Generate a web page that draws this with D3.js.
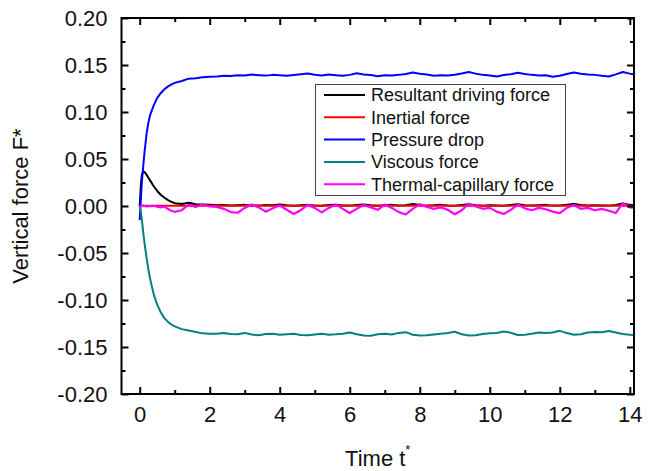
<!DOCTYPE html>
<html>
<head>
<meta charset="utf-8">
<script src="https://cdn.jsdelivr.net/npm/d3@7"></script>
<style>
  html, body { margin: 0; padding: 0; background: #fff; }
  svg { display: block; font-family: Arial, "Liberation Sans", sans-serif; }
</style>
</head>
<body>
<svg id="chart" width="649" height="471"></svg>
<script>
// ---------------- DATA ----------------
const times = [0, 0.03, 0.06, 0.1, 0.14, 0.2, 0.25, 0.3, 0.4, 0.5, 0.6, 0.7, 0.8, 0.9,
  1.0, 1.2, 1.4, 1.6, 1.8, 2.0, 2.2, 2.4, 2.6, 2.8, 3.0, 3.2, 3.4, 3.6, 3.8, 4.0,
  4.2, 4.4, 4.6, 4.8, 5.0, 5.2, 5.4, 5.6, 5.8, 6.0, 6.2, 6.4, 6.6, 6.8, 7.0,
  7.2, 7.4, 7.6, 7.8, 8.0, 8.2, 8.4, 8.6, 8.8, 9.0, 9.2, 9.4, 9.6, 9.8, 10.0,
  10.2, 10.4, 10.6, 10.8, 11.0, 11.2, 11.4, 11.6, 11.8, 12.0, 12.2, 12.4, 12.6, 12.8, 13.0,
  13.2, 13.4, 13.6, 13.8, 14.0, 14.2];

const resultantDriving = [0.000, 0.020, 0.033, 0.037, 0.036, 0.033, 0.030, 0.027, 0.021, 0.016, 0.012, 0.009, 0.0065, 0.0045,
  0.0030, 0.0022, 0.0035, 0.0018, 0.0015, 0.0012, 0.0008, 0.0010, 0.0005, 0.0009, 0.0012, 0.0006, 0.0004, 0.0010, 0.0007, 0.0016,
  0.0008, 0.0003, 0.0009, 0.0012, 0.0006, 0.0002, 0.0010, 0.0014, 0.0006, 0.0004, 0.0011, 0.0016, 0.0008, 0.0003, 0.0009,
  0.0012, 0.0005, 0.0008, 0.0022, 0.0010, 0.0004, 0.0007, 0.0012, 0.0005, 0.0003, 0.0010, 0.0018, 0.0009, 0.0004, 0.0008,
  0.0006, 0.0003, 0.0011, 0.0020, 0.0009, 0.0005, 0.0008, 0.0012, 0.0004, 0.0006, 0.0013, 0.0021, 0.0010, 0.0005, 0.0008,
  0.0006, 0.0004, 0.0010, 0.0028, 0.0012, 0.0008];

const inertial = [0.0000, 0.0004, 0.0005, 0.0004, 0.0003, 0.0003, 0.0003, 0.0003, 0.0003, 0.0003, 0.0003, 0.0003, 0.0003, 0.0003,
  0.0003, 0.0003, 0.0003, 0.0003, 0.0003, 0.0003, 0.0003, 0.0003, 0.0003, 0.0003, 0.0003, 0.0003, 0.0003, 0.0003, 0.0003, 0.0003,
  0.0003, 0.0003, 0.0003, 0.0003, 0.0003, 0.0003, 0.0003, 0.0003, 0.0003, 0.0003, 0.0003, 0.0003, 0.0003, 0.0003, 0.0003,
  0.0003, 0.0003, 0.0003, 0.0003, 0.0003, 0.0003, 0.0003, 0.0003, 0.0003, 0.0003, 0.0003, 0.0003, 0.0003, 0.0003, 0.0003,
  0.0003, 0.0003, 0.0003, 0.0003, 0.0003, 0.0003, 0.0003, 0.0003, 0.0003, 0.0003, 0.0003, 0.0003, 0.0003, 0.0003, 0.0003,
  0.0003, 0.0003, 0.0003, 0.0003, 0.0003, 0.0003];

const pressureDrop = [-0.015, 0.005, 0.025, 0.042, 0.058, 0.078, 0.089, 0.097, 0.107, 0.115, 0.120, 0.124, 0.127, 0.129,
  0.1310, 0.1330, 0.1355, 0.1360, 0.1370, 0.1375, 0.1378, 0.1385, 0.1383, 0.1392, 0.1388, 0.1398, 0.1392, 0.1387, 0.1395, 0.1390,
  0.1385, 0.1393, 0.1402, 0.1410, 0.1396, 0.1389, 0.1398, 0.1391, 0.1385, 0.1395, 0.1412, 0.1400, 0.1393, 0.1380, 0.1392,
  0.1388, 0.1395, 0.1405, 0.1420, 0.1408, 0.1398, 0.1385, 0.1392, 0.1388, 0.1397, 0.1410, 0.1425, 0.1408, 0.1395, 0.1388,
  0.1378, 0.1393, 0.1402, 0.1418, 0.1405, 0.1395, 0.1388, 0.1392, 0.1375, 0.1385, 0.1405, 0.1420, 0.1408, 0.1400, 0.1395,
  0.1385, 0.1378, 0.1400, 0.1425, 0.1408, 0.1398];

const viscous = [0.000, -0.006, -0.014, -0.028, -0.040, -0.056, -0.068, -0.078, -0.094, -0.105, -0.113, -0.119, -0.123, -0.126,
  -0.1280, -0.1310, -0.1325, -0.1340, -0.1355, -0.1360, -0.1358, -0.1352, -0.1362, -0.1365, -0.1350, -0.1368, -0.1375, -0.1362, -0.1358, -0.1370,
  -0.1365, -0.1360, -0.1372, -0.1376, -0.1368, -0.1360, -0.1370, -0.1365, -0.1358, -0.1345, -0.1365, -0.1378, -0.1380, -0.1365, -0.1360,
  -0.1368, -0.1350, -0.1342, -0.1370, -0.1378, -0.1375, -0.1368, -0.1360, -0.1352, -0.1338, -0.1365, -0.1378, -0.1375, -0.1362, -0.1355,
  -0.1350, -0.1335, -0.1348, -0.1372, -0.1370, -0.1360, -0.1345, -0.1350, -0.1345, -0.1328, -0.1352, -0.1370, -0.1365, -0.1345, -0.1340,
  -0.1342, -0.1330, -0.1345, -0.1362, -0.1370, -0.1372];

const thermalCapillary = [0.0000, 0.0000, 0.0005, 0.0003, 0.0000, -0.0005, 0.0000, -0.0003, 0.0002, -0.0008, -0.0015, -0.0005, -0.0030, -0.0050,
  -0.0062, -0.0045, 0.0015, -0.0010, 0.0018, -0.0005, -0.0010, -0.0030, -0.0065, -0.0072, -0.0020, 0.0015, -0.0015, -0.0060, -0.0025, 0.0005,
  -0.0040, -0.0085, -0.0045, 0.0012, -0.0020, -0.0068, -0.0020, 0.0015, -0.0030, -0.0075, -0.0030, 0.0010, -0.0015, -0.0040, 0.0015,
  -0.0020, -0.0065, -0.0090, -0.0030, 0.0020, -0.0010, -0.0030, -0.0015, -0.0040, -0.0088, -0.0045, 0.0025, -0.0005, -0.0030, -0.0020,
  -0.0060, -0.0085, -0.0040, 0.0015, -0.0025, -0.0045, -0.0020, -0.0035, -0.0060, -0.0075, -0.0020, 0.0010, -0.0030, -0.0020, -0.0045,
  -0.0030, -0.0050, -0.0075, 0.0030, -0.0015, -0.0020];

const seriesNames = ["Resultant driving force", "Inertial force", "Pressure drop", "Viscous force", "Thermal-capillary force"];
const seriesColors = ["#000000", "#ff0000", "#0000ff", "#008080", "#ff00ff"];
const seriesValues = [resultantDriving, inertial, pressureDrop, viscous, thermalCapillary];

const xTicks = [0, 2, 4, 6, 8, 10, 12, 14];
const xMinorTicks = [1, 3, 5, 7, 9, 11, 13];
const yTicks = [-0.20, -0.15, -0.10, -0.05, 0.00, 0.05, 0.10, 0.15, 0.20];
const yMinorTicks = [-0.175, -0.125, -0.075, -0.025, 0.025, 0.075, 0.125, 0.175];

// ---------------- LAYOUT ----------------
const svg = d3.select("#chart");
const L = 121.5, R = 634, T = 18, B = 394;

const x = d3.scaleLinear().domain([-0.52, 14.12]).range([L, R]);
const y = d3.scaleLinear().domain([-0.20, 0.20]).range([B, T]);

const clip = svg.append("defs").append("clipPath").attr("id", "clip")
  .append("rect").attr("x", L).attr("y", T).attr("width", R - L).attr("height", B - T);

// Series lines
const line = d3.line().x(d => x(d[0])).y(d => y(d[1]));
const gLines = svg.append("g").attr("clip-path", "url(#clip)");
seriesValues.forEach((vals, i) => {
  const pts = times.map((t, j) => [t, vals[j]]);
  gLines.append("path")
    .datum(pts)
    .attr("fill", "none")
    .attr("stroke", seriesColors[i])
    .attr("stroke-width", i === 4 ? 2.2 : 2)
    .attr("stroke-linejoin", "round")
    .attr("d", line);
});

// Axes (ticks inward, mirrored)
const fs = 22;
const axB = svg.append("g").attr("transform", `translate(0,${B})`)
  .call(d3.axisBottom(x).tickValues(xTicks).tickSizeInner(-7).tickSizeOuter(0).tickPadding(12).tickFormat(d3.format("d")));
const axBm = svg.append("g").attr("transform", `translate(0,${B})`)
  .call(d3.axisBottom(x).tickValues(xMinorTicks).tickSizeInner(-4).tickSizeOuter(0).tickFormat(""));
const axT = svg.append("g").attr("transform", `translate(0,${T})`)
  .call(d3.axisTop(x).tickValues(xTicks).tickSizeInner(-7).tickSizeOuter(0).tickFormat(""));
const axTm = svg.append("g").attr("transform", `translate(0,${T})`)
  .call(d3.axisTop(x).tickValues(xMinorTicks).tickSizeInner(-4).tickSizeOuter(0).tickFormat(""));
const axL = svg.append("g").attr("transform", `translate(${L},0)`)
  .call(d3.axisLeft(y).tickValues(yTicks).tickSizeInner(-7).tickSizeOuter(0).tickPadding(14).tickFormat(d3.format(".2f")));
const axLm = svg.append("g").attr("transform", `translate(${L},0)`)
  .call(d3.axisLeft(y).tickValues(yMinorTicks).tickSizeInner(-4).tickSizeOuter(0).tickFormat(""));
const axR = svg.append("g").attr("transform", `translate(${R},0)`)
  .call(d3.axisRight(y).tickValues(yTicks).tickSizeInner(-7).tickSizeOuter(0).tickFormat(""));
const axRm = svg.append("g").attr("transform", `translate(${R},0)`)
  .call(d3.axisRight(y).tickValues(yMinorTicks).tickSizeInner(-4).tickSizeOuter(0).tickFormat(""));

[axB, axBm, axT, axTm, axL, axLm, axR, axRm].forEach(g => {
  g.select(".domain").remove();
  g.selectAll(".tick line").attr("stroke", "#000").attr("stroke-width", 2);
  g.selectAll(".tick text").attr("font-size", fs).attr("font-family", "Arial, 'Liberation Sans', sans-serif").attr("fill", "#111");
});
axL.selectAll(".tick text").text(d => d3.format(".2f")(d).replace("−", "-"));

// Frame
svg.append("rect").attr("x", L).attr("y", T).attr("width", R - L).attr("height", B - T)
  .attr("fill", "none").attr("stroke", "#000").attr("stroke-width", 2);

// Axis titles
const xt = svg.append("text").attr("x", (L + R) / 2).attr("y", 466).attr("text-anchor", "middle")
  .attr("font-size", 22).attr("fill", "#111");
xt.append("tspan").text("Time t");
xt.append("tspan").attr("font-size", 13).attr("dy", -12).text("*");

svg.append("text").attr("transform", `translate(28,${(T + B) / 2}) rotate(-90)`)
  .attr("text-anchor", "middle").attr("font-size", 22).attr("fill", "#111")
  .text("Vertical force F*");

// Legend
const lg = svg.append("g");
lg.append("rect").attr("x", 315.5).attr("y", 84.5).attr("width", 250).attr("height", 111)
  .attr("fill", "#fff").attr("stroke", "#444").attr("stroke-width", 1);
seriesNames.forEach((name, i) => {
  const yy = 95 + i * 22.3;
  lg.append("line").attr("x1", 324).attr("x2", 365).attr("y1", yy).attr("y2", yy)
    .attr("stroke", seriesColors[i]).attr("stroke-width", 2);
  lg.append("text").attr("x", 371).attr("y", yy).attr("dy", "0.35em")
    .attr("font-size", 18).attr("fill", "#111").text(name);
});
</script>
</body>
</html>
